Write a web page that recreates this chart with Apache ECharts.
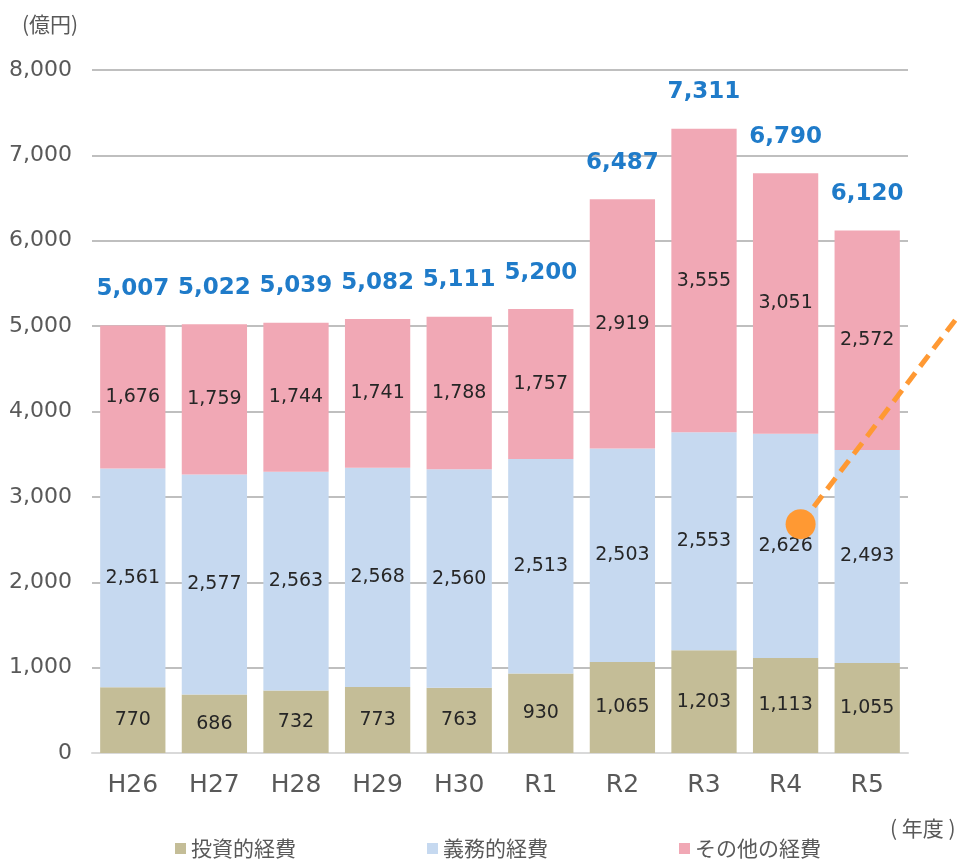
<!DOCTYPE html>
<html><head><meta charset="utf-8">
<script src="https://cdn.jsdelivr.net/npm/echarts@6/dist/echarts.min.js"></script>
<style>html,body{margin:0;padding:0;background:#fff}#c{width:957px;height:859px}</style>
</head><body><div id="c"></div>
<script>
const categories = ['H26','H27','H28','H29','H30','R1','R2','R3','R4','R5'];
const investment = [770,686,732,773,763,930,1065,1203,1113,1055];
const mandatory = [2561,2577,2563,2568,2560,2513,2503,2553,2626,2493];
const other = [1676,1759,1744,1741,1788,1757,2919,3555,3051,2572];
const totals = [5007,5022,5039,5082,5111,5200,6487,7311,6790,6120];
const seriesNames = ['投資的経費','義務的経費','その他の経費'];
const yTicks = [0,1000,2000,3000,4000,5000,6000,7000,8000];
const markerCategory = 'R4';
const markerValue = 2680;

const NUM = '"DejaVu Sans", Verdana, sans-serif';
const JP = '"Noto Sans CJK JP", sans-serif';
const fmt = v => v.toLocaleString('en-US');
const chart = echarts.init(document.getElementById('c'));
const segLabel = {show:true, position:'inside', color:'#262626', fontSize:19, fontFamily:NUM, formatter:p=>fmt(p.value)};
const texts = [
  {type:'text',left:22,top:14,style:{text:'(億円)',fill:'#595959',font:'21px '+JP}},
  {type:'text',left:890,top:818,style:{text:'( 年度 )',fill:'#595959',font:'21px '+JP}}
];
chart.setOption({
  animation:false,
  grid:{left:92,right:49,top:70,bottom:106},
  legend:{top:833,left:170,itemWidth:11,itemHeight:11,itemGap:131,icon:'rect',
    textStyle:{color:'#595959',fontSize:21,fontFamily:JP},data:seriesNames},
  xAxis:{type:'category',data:categories,
    axisLine:{lineStyle:{color:'#D9D9D9',width:2}},axisTick:{show:false},
    axisLabel:{color:'#595959',fontSize:25,fontFamily:NUM,margin:20}},
  yAxis:{type:'value',min:yTicks[0],max:yTicks[yTicks.length-1],interval:1000,
    axisLabel:{color:'#595959',fontSize:22,fontFamily:NUM,margin:20,formatter:v=>fmt(v)},
    splitLine:{lineStyle:{color:'#BFBFBF',width:2}}},
  series:[
    {name:seriesNames[0],type:'bar',stack:'a',barWidth:'80%',data:investment,
     itemStyle:{color:'#C4BD97'},label:segLabel},
    {name:seriesNames[1],type:'bar',stack:'a',data:mandatory,
     itemStyle:{color:'#C6D9F0'},label:segLabel},
    {name:seriesNames[2],type:'bar',stack:'a',data:other,
     itemStyle:{color:'#F1A8B5'},label:segLabel},
    {name:'total',type:'bar',stack:'a',data:totals.map(()=>0),
     itemStyle:{color:'transparent'},
     label:{show:true,position:'top',distance:25,color:'#1F7BC9',fontSize:23,fontWeight:'bold',fontFamily:NUM,
       formatter:p=>fmt(totals[p.dataIndex])}}
  ],
  graphic:texts
});
const p = chart.convertToPixel({xAxisIndex:0,yAxisIndex:0},[markerCategory,markerValue]);
const cx = p[0]+15, cy = p[1];
const slope = 1.32;
const ex = 960, ey = cy - (ex-cx)*slope;
chart.setOption({graphic:texts.concat([
  {type:'line',z:100,shape:{x1:cx,y1:cy,x2:ex,y2:ey},style:{stroke:'#FF9933',lineWidth:5,lineDash:[14,8]}},
  {type:'circle',z:101,shape:{cx:cx,cy:cy,r:15},style:{fill:'#FF9933'}}
])});
</script></body></html>
